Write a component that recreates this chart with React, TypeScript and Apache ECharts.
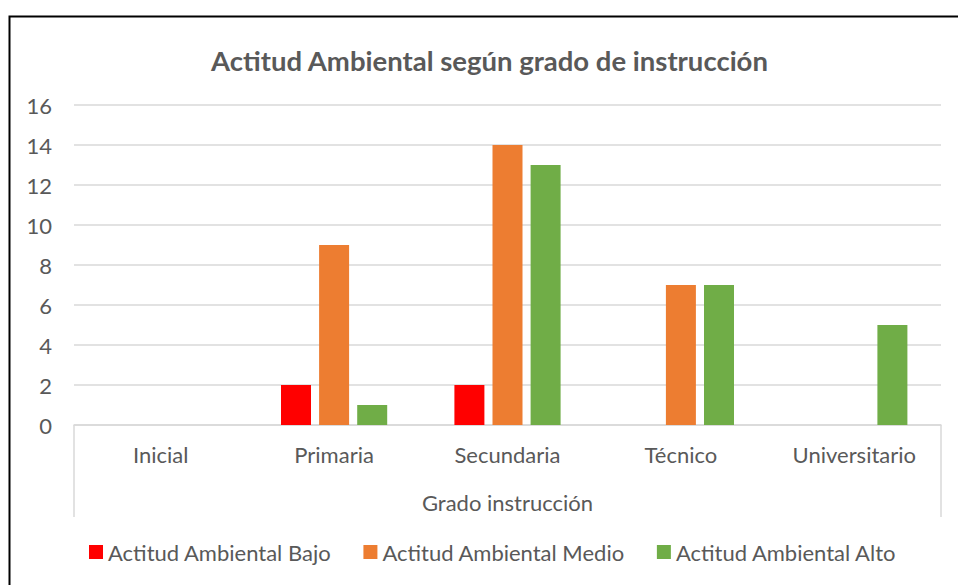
import React, { useEffect, useRef } from "react";
import * as echarts from "echarts";

const categories = ["Inicial", "Primaria", "Secundaria", "Técnico", "Universitario"];
const seriesNames = ["Actitud Ambiental Bajo", "Actitud Ambiental Medio", "Actitud Ambiental Alto"];
const bajo = [0, 2, 2, 0, 0];
const medio = [0, 9, 14, 7, 0];
const alto = [0, 1, 13, 7, 5];
const colors = ["#FF0000", "#ED7D31", "#70AD47"];
const FONT = "Lato, 'Open Sans', sans-serif";

export default function App() {
  const ref = useRef<HTMLDivElement>(null);
  useEffect(() => {
    if (!ref.current) return;
    const chart = echarts.init(ref.current, undefined, { renderer: "svg" });
    const gridLeft = 74, gridRight = 17, gridTop = 105, gridBottom = 160;
    const W = 958, H = 585;
    const axisY = H - gridBottom;
    const data = [bajo, medio, alto];
    chart.setOption({
      animation: false,
      backgroundColor: "#fff",
      textStyle: { fontFamily: FONT },
      title: {
        text: "Actitud Ambiental según grado de instrucción",
        left: 206,
        top: 41,
        textStyle: { fontFamily: FONT, fontSize: 27.5, fontWeight: "bold", color: "#595959" },
      },
      legend: {
        bottom: 17,
        left: 84,
        itemWidth: 14,
        itemHeight: 14,
        itemGap: 32,
        icon: "rect",
        textStyle: { fontFamily: FONT, fontSize: 22, color: "#595959" },
        data: seriesNames,
      },
      grid: { left: gridLeft, right: gridRight, top: gridTop, bottom: gridBottom },
      xAxis: {
        type: "category",
        data: categories,
        name: "Grado instrucción",
        nameLocation: "middle",
        nameGap: 66,
        nameTextStyle: { fontFamily: FONT, fontSize: 22, color: "#595959" },
        axisLine: { lineStyle: { color: "#D9D9D9", width: 1.5 } },
        axisTick: { show: false },
        axisLabel: { fontFamily: FONT, fontSize: 22, color: "#595959", margin: 18 },
      },
      yAxis: {
        type: "value",
        min: 0,
        max: 16,
        interval: 2,
        axisLine: { show: false },
        axisTick: { show: false },
        axisLabel: { fontFamily: FONT, fontSize: 22, color: "#595959", margin: 22 },
        splitLine: { lineStyle: { color: "#D9D9D9", width: 1.5 } },
      },
      graphic: [
        {
          type: "rect",
          shape: { x: 9.5, y: 16.5, width: 1000, height: 600 },
          style: { fill: "none", stroke: "#000", lineWidth: 2 },
          silent: true,
        },
        {
          type: "line",
          shape: { x1: gridLeft, y1: axisY, x2: gridLeft, y2: axisY + 92 },
          style: { stroke: "#D9D9D9", lineWidth: 1.5 },
          silent: true,
        },
        {
          type: "line",
          shape: { x1: W - gridRight, y1: axisY, x2: W - gridRight, y2: axisY + 92 },
          style: { stroke: "#D9D9D9", lineWidth: 1.5 },
          silent: true,
        },
      ],
      series: seriesNames.map((name, i) => ({
        name,
        type: "bar",
        data: data[i],
        barWidth: 30,
        barGap: "27%",
        itemStyle: { color: colors[i] },
      })),
    });
    return () => chart.dispose();
  }, []);
  return (
    <div style={{ position: "fixed", left: 0, top: 0, width: 958, height: 585 }}>
      <div ref={ref} style={{ width: 958, height: 585 }} />
    </div>
  );
}
